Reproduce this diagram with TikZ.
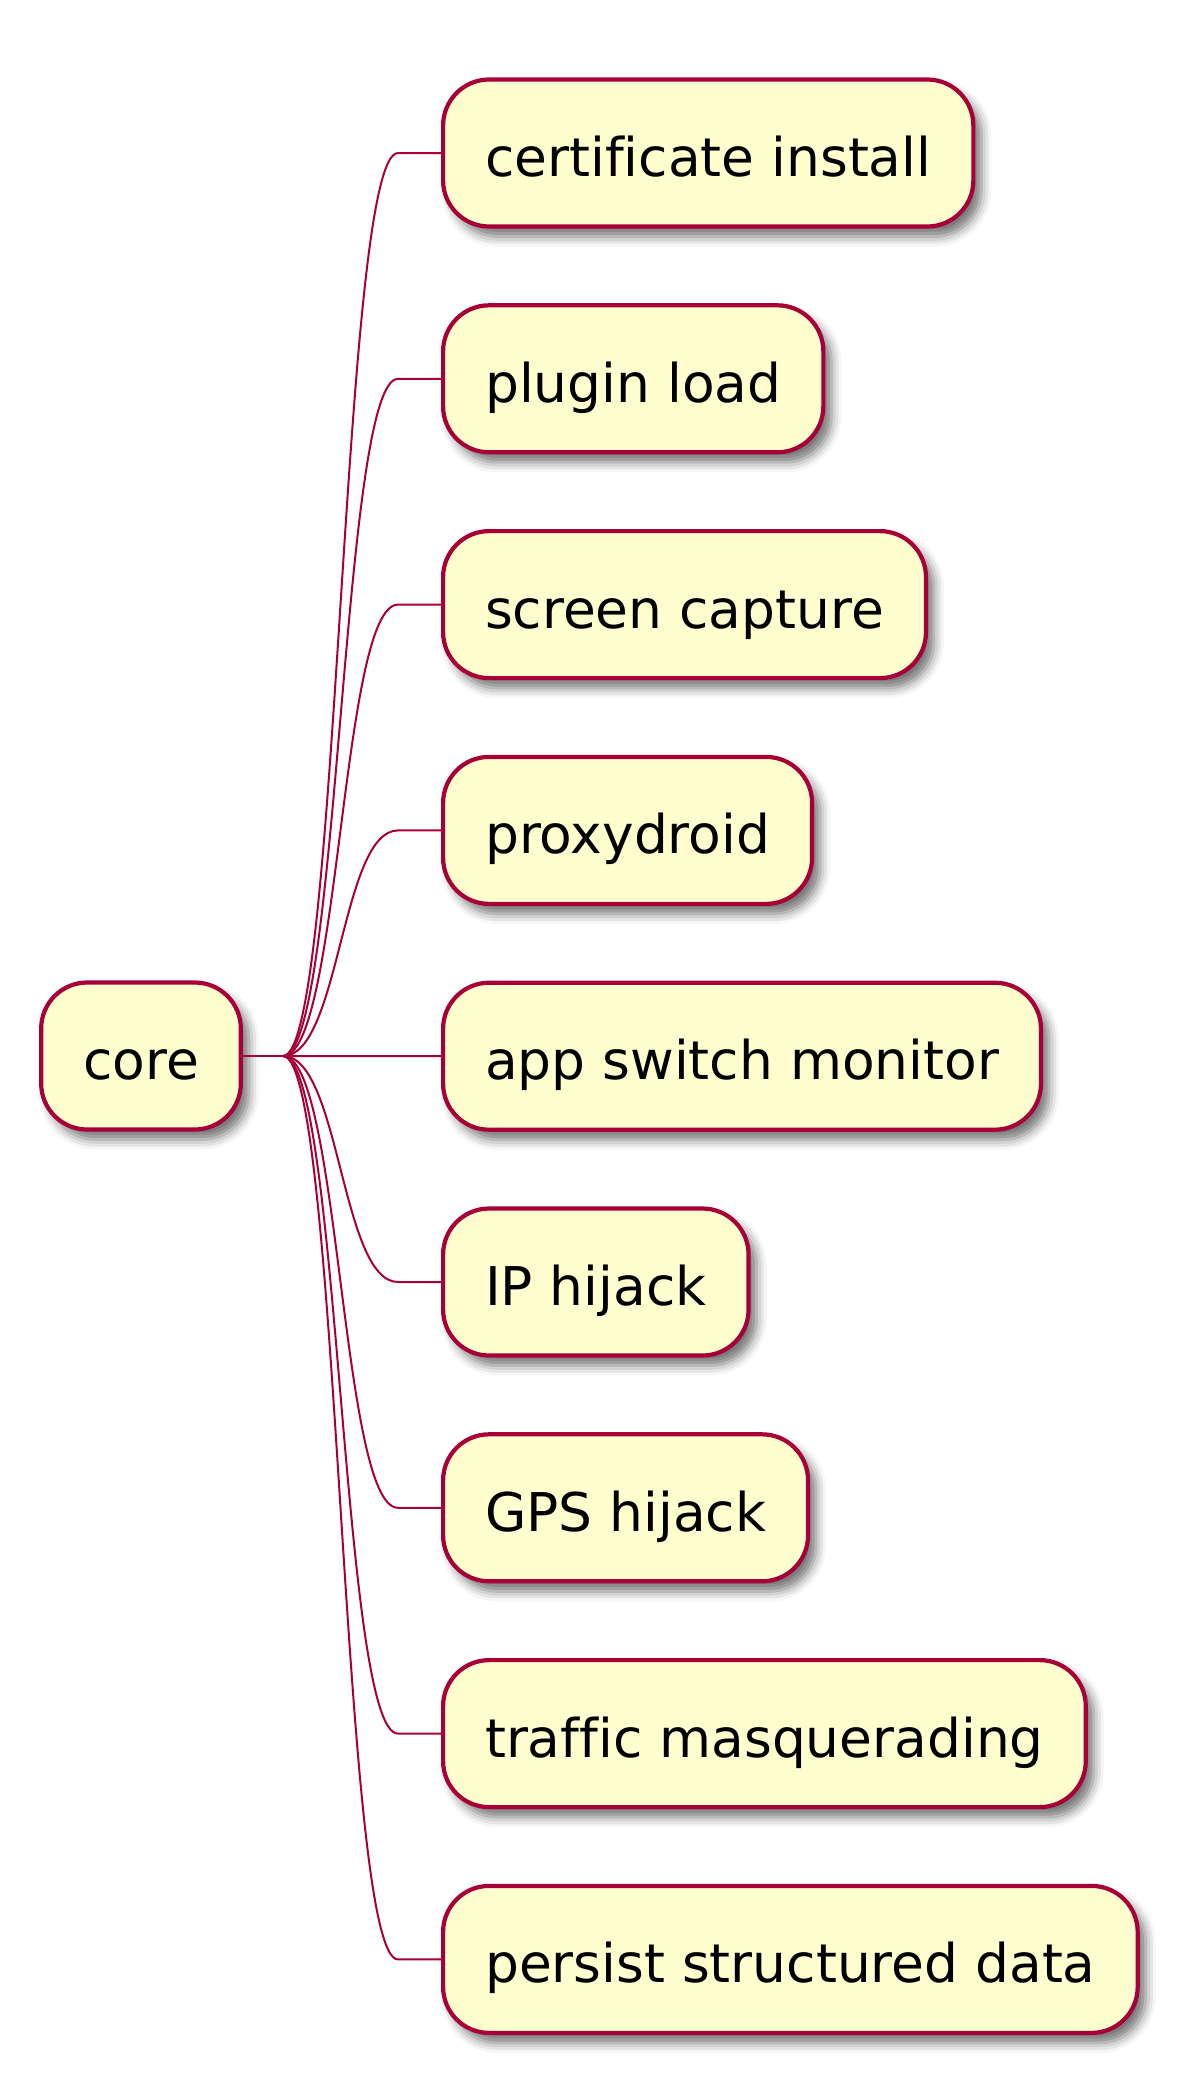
\documentclass[tikz,border=0pt]{standalone}
\usepackage{fontspec}
\setmainfont{DejaVu Sans}[Ligatures=CommonOff]
\usetikzlibrary{shadows.blur}
\definecolor{mmfill}{HTML}{FEFECE}
\definecolor{mmline}{HTML}{A80036}
\tikzset{
  topic/.style={draw=mmline, line width=2.1pt, fill=mmfill, rounded corners=23pt,
    minimum height=73.5pt, inner xsep=21pt, text height=24.5pt, text depth=1pt,
    font=\fontsize{26.7}{32}\selectfont,
    blur shadow={shadow xshift=4pt, shadow yshift=-5pt, shadow blur radius=5pt, shadow opacity=55}},
  link/.style={draw=mmline, line width=1pt}
}
\begin{document}
\begin{tikzpicture}[x=0.5pt,y=-0.5pt]
  \useasboundingbox (0,0) rectangle (1180,2073);

  \node[topic] (core) at (141,1056) {core};
  \coordinate (hub) at (283,1056);
  \draw[link] (core.east) -- (hub);

  \foreach \name/\txt [count=\i from 0] in {cert/certificate install, plugin/plugin load,
      capture/screen capture, proxy/proxydroid, appswitch/app switch monitor,
      iphijack/IP hijack, gpshijack/GPS hijack, masq/traffic masquerading,
      persist/persist structured data}
  {
    \node[topic, anchor=west] (\name) at (441,153+225.8*\i) {\txt};
    \draw[link] (hub) .. controls +(57,0) and +(-57,0) .. ([xshift=-21.5pt]\name.west) -- (\name.west);
  }

\end{tikzpicture}
\end{document}
